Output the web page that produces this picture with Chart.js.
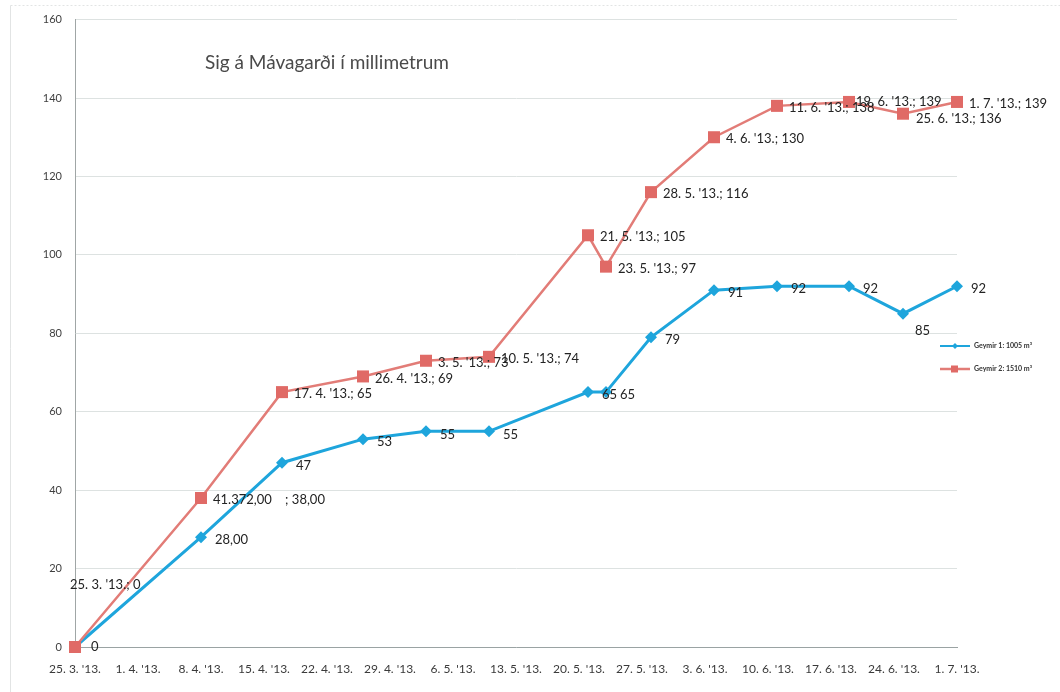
<!DOCTYPE html>
<html>
<head>
<meta charset="utf-8">
<script src="https://cdn.jsdelivr.net/npm/chart.js@4.4.1/dist/chart.umd.min.js"></script>
<style>
  html, body { margin: 0; padding: 0; background: #ffffff; }
  #wrap { position: relative; width: 1060px; height: 692px; }
</style>
</head>
<body>
<div id="wrap"><canvas id="c" width="1060" height="692"></canvas></div>
<script>
// ---- data ----
const chartTitle = "Sig á Mávagarði í millimetrum";
const seriesNames = ["Geymir 1: 1005 m³", "Geymir 2: 1510 m³"];
const measureDates = ["25.3", "8.4", "17.4", "26.4", "3.5", "10.5", "21.5", "23.5", "28.5", "4.6", "11.6", "19.6", "25.6", "1.7"];
const geymir1 = [0, 28, 47, 53, 55, 55, 65, 65, 79, 91, 92, 92, 85, 92];
const geymir2 = [0, 38, 65, 69, 73, 74, 105, 97, 116, 130, 138, 139, 136, 139];
const tickDates = ["25.3", "1.4", "8.4", "15.4", "22.4", "29.4", "6.5", "13.5", "20.5", "27.5", "3.6", "10.6", "17.6", "24.6", "1.7"];
const yTicks = [0, 20, 40, 60, 80, 100, 120, 140, 160];
// label texts that differ from the default pattern (as printed on the chart)
const geymir1LabelOverrides = { 1: "28,00" };
const geymir2LabelOverrides = { 1: "41.372,00    ; 38,00" };

// ---- helpers ----
const START = Date.UTC(2013, 2, 25);
function dayOf(s) {
  const [d, m] = s.split(".").map(Number);
  return Math.round((Date.UTC(2013, m - 1, d) - START) / 86400000);
}
function longDate(s) {
  const [d, m] = s.split(".");
  return d + ". " + m + ". '13.";
}
const xs = measureDates.map(dayOf);
const tickDays = tickDates.map(dayOf);
const tickText = tickDates.map(longDate);

const g1Labels = geymir1.map((v, i) => geymir1LabelOverrides[i] !== undefined ? geymir1LabelOverrides[i] : String(v));
const g2Labels = geymir2.map((v, i) => geymir2LabelOverrides[i] !== undefined ? geymir2LabelOverrides[i] : longDate(measureDates[i]) + "; " + v);

const BLUE = "#1ea5dc";
const RED = "#e27c77";
const RED_PT = "#e06a66";
const FONT = "Lato, 'Open Sans', sans-serif";

// ---- plugins ----
const decorPlugin = {
  id: "decor",
  beforeDraw(chart) {
    const ctx = chart.ctx;
    ctx.save();
    ctx.strokeStyle = "#e2e4e4";
    ctx.lineWidth = 1;
    ctx.setLineDash([2, 2]);
    ctx.beginPath();
    ctx.moveTo(10.5, 5.5); ctx.lineTo(1060, 5.5);
    ctx.stroke();
    ctx.setLineDash([]);
    ctx.beginPath();
    ctx.moveTo(10.5, 5.5); ctx.lineTo(10.5, 692);
    ctx.stroke();
    ctx.restore();
  },
  afterDraw(chart) {
    const ctx = chart.ctx;
    ctx.save();
    // title
    ctx.fillStyle = "#4a4a4a";
    ctx.font = "19px " + FONT;
    ctx.textBaseline = "middle";
    ctx.textAlign = "left";
    ctx.fillText(chartTitle, 205, 63);
    // legend
    const items = [
      { name: seriesNames[0], color: BLUE, pt: "rectRot", y: 346 },
      { name: seriesNames[1], color: RED, pt: "rect", y: 369 }
    ];
    items.forEach(it => {
      ctx.strokeStyle = it.color;
      ctx.lineWidth = it.pt === "rect" ? 2.5 : 2;
      ctx.beginPath();
      ctx.moveTo(940, it.y); ctx.lineTo(970, it.y);
      ctx.stroke();
      ctx.fillStyle = it.pt === "rect" ? RED_PT : BLUE;
      if (it.pt === "rect") {
        ctx.fillRect(951, it.y - 3.5, 7, 7);
      } else {
        ctx.beginPath();
        ctx.moveTo(955, it.y - 3); ctx.lineTo(958, it.y); ctx.lineTo(955, it.y + 3); ctx.lineTo(952, it.y);
        ctx.closePath(); ctx.fill();
      }
      ctx.fillStyle = "#333";
      ctx.font = "bold 7px " + FONT;
      ctx.textBaseline = "middle";
      ctx.fillText(it.name, 974, it.y);
    });
    ctx.restore();
  }
};

const dataLabelPlugin = {
  id: "dlabels",
  afterDatasetsDraw(chart, args, opts) {
    const ctx = chart.ctx;
    ctx.save();
    ctx.font = "13px " + FONT;
    ctx.fillStyle = "#232323";
    ctx.textBaseline = "middle";
    ctx.textAlign = "left";
    chart.data.datasets.forEach((ds, di) => {
      const meta = chart.getDatasetMeta(di);
      const cfg = opts.sets[di];
      meta.data.forEach((pt, i) => {
        const off = cfg.special[i] || cfg.base;
        ctx.fillText(cfg.texts[i], pt.x + off[0], pt.y + off[1]);
      });
    });
    ctx.restore();
  }
};

// ---- chart ----
new Chart(document.getElementById("c"), {
  type: "line",
  data: {
    datasets: [
      {
        label: seriesNames[0],
        data: xs.map((x, i) => ({ x: x, y: geymir1[i] })),
        borderColor: BLUE,
        backgroundColor: BLUE,
        borderWidth: 3,
        pointStyle: "rectRot",
        pointRadius: 6,
        pointHoverRadius: 6,
        pointBorderWidth: 0,
        tension: 0,
        clip: false,
        order: 2
      },
      {
        label: seriesNames[1],
        data: xs.map((x, i) => ({ x: x, y: geymir2[i] })),
        borderColor: RED,
        backgroundColor: RED_PT,
        borderWidth: 2.5,
        pointStyle: "rect",
        pointRadius: 8.5,
        pointHoverRadius: 8.5,
        pointBorderWidth: 0,
        tension: 0,
        clip: false,
        order: 1
      }
    ]
  },
  options: {
    responsive: false,
    animation: false,
    events: [],
    layout: { padding: { left: 0, top: 17, right: 103, bottom: 0 } },
    plugins: {
      legend: { display: false },
      title: { display: false },
      tooltip: { enabled: false },
      dlabels: {
        sets: [
          { texts: g1Labels, base: [14, 3], special: { 0: [16, 0], 12: [12, 17] } },
          { texts: g2Labels, base: [12, 2], special: { 0: [-5, -62], 11: [7, 0], 12: [13, 5] } }
        ]
      }
    },
    scales: {
      x: {
        type: "linear",
        min: 0,
        max: 98,
        afterBuildTicks: s => { s.ticks = tickDays.map(v => ({ value: v })); },
        afterFit: s => { s.height = 45; },
        grid: { display: false },
        border: { display: true, color: "#9aa3a3", dash: [2, 2], width: 1 },
        ticks: {
          autoSkip: false,
          maxRotation: 0,
          padding: 7,
          color: "#3a3a3a",
          font: { family: FONT, size: 12 },
          callback: v => { const k = tickDays.indexOf(v); return k >= 0 ? tickText[k] : ""; }
        }
      },
      y: {
        min: 0,
        max: 160,
        afterBuildTicks: s => { s.ticks = yTicks.map(v => ({ value: v })); },
        afterFit: s => { s.width = 75; },
        grid: { color: "#dde2e1", lineWidth: 1, drawTicks: false },
        border: { display: true, color: "#a0a6a6", width: 1 },
        ticks: {
          padding: 13,
          color: "#3f3f3f",
          font: { family: FONT, size: 11 }
        }
      }
    }
  },
  plugins: [decorPlugin, dataLabelPlugin]
});
</script>
</body>
</html>
